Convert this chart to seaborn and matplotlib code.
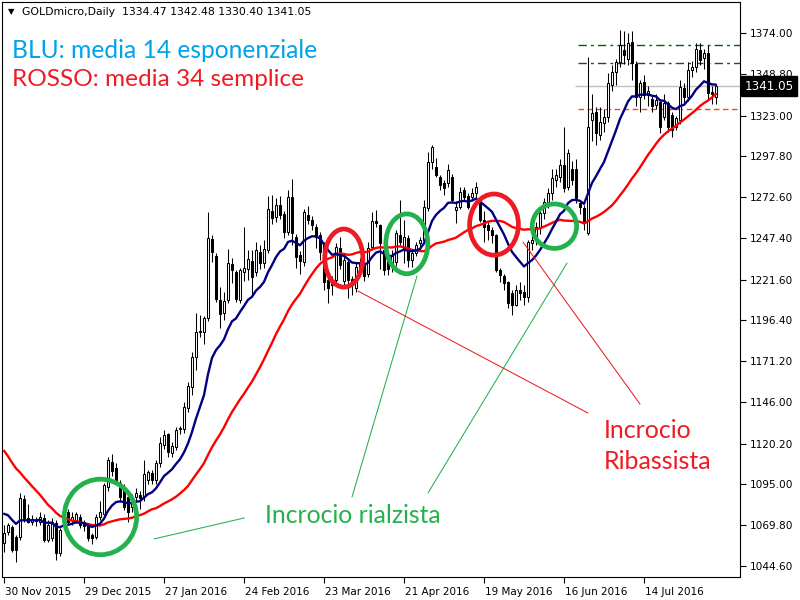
import numpy as np
import pandas as pd
import matplotlib
matplotlib.use("Agg")
import matplotlib.pyplot as plt
import matplotlib.transforms as mtransforms
from matplotlib.patches import Ellipse
import seaborn as sns

# ---------------- data ----------------
symbol = "GOLDmicro,Daily"
date_labels = ["30 Nov 2015", "29 Dec 2015", "27 Jan 2016", "24 Feb 2016", "23 Mar 2016",
               "21 Apr 2016", "19 May 2016", "16 Jun 2016", "14 Jul 2016"]
date_label_bars = [0, 20, 40, 60, 80, 100, 120, 140, 160]
price_ticks = [1374.00, 1348.80, 1323.00, 1297.80, 1272.60, 1247.40, 1221.60,
               1196.40, 1171.20, 1146.00, 1120.20, 1095.00, 1069.80, 1044.60]

# closes of the 34 sessions before the first visible bar (needed for the moving averages)
prior_close = [1166, 1186, 1187, 1177, 1171, 1177, 1166, 1166, 1162, 1166, 1166, 1176,
               1147, 1142, 1135, 1115, 1105, 1104, 1088, 1090, 1088, 1084, 1081, 1081,
               1083, 1069, 1070, 1080, 1076, 1067, 1072, 1070, 1070, 1056]

open_ = [1058.8, 1065.8, 1068.5, 1062.8, 1062.8, 1086.0, 1074.0, 1072.0, 1073.0, 1072.0,
         1074.0, 1060.7, 1061.7, 1071.0, 1052.5, 1070.0, 1078.0, 1073.0, 1073.0, 1075.0,
         1072.0, 1070.0, 1063.8, 1062.8, 1075.0, 1077.0, 1093.7, 1109.0, 1105.0, 1095.7,
         1091.6, 1087.5, 1081.0, 1087.5, 1088.5, 1087.5, 1097.7, 1101.8, 1097.7, 1108.0,
         1119.3, 1126.0, 1114.6, 1118.3, 1129.0, 1129.0, 1142.0, 1155.0, 1173.5, 1189.0,
         1189.4, 1197.6, 1246.5, 1236.0, 1209.0, 1201.0, 1209.0, 1231.0, 1226.0, 1209.0,
         1226.0, 1227.9, 1233.3, 1226.5, 1238.8, 1232.0, 1239.9, 1264.0, 1260.0, 1267.7,
         1262.0, 1251.0, 1272.4, 1248.0, 1236.8, 1232.6, 1261.5, 1258.4, 1254.3, 1249.0,
         1243.0, 1221.3, 1221.3, 1221.3, 1240.9, 1221.0, 1232.6, 1222.0, 1216.2, 1229.0,
         1231.0, 1225.0, 1241.5, 1258.0, 1255.3, 1240.0, 1237.0, 1231.0, 1232.7, 1249.2,
         1239.9, 1247.1, 1233.7, 1237.8, 1244.0, 1246.0, 1265.6, 1294.5, 1291.4, 1285.2,
         1281.1, 1281.1, 1285.2, 1264.6, 1266.7, 1277.0, 1273.0, 1272.8, 1275.0, 1268.7,
         1258.4, 1255.3, 1252.2, 1249.0, 1227.5, 1223.8, 1220.0, 1213.1, 1205.9, 1215.1,
         1214.0, 1211.0, 1244.0, 1246.0, 1253.3, 1262.5, 1269.8, 1274.9, 1283.1, 1285.2,
         1292.4, 1279.0, 1289.7, 1290.0, 1269.0, 1265.6, 1250.2, 1320.3, 1325.4, 1311.0,
         1318.2, 1322.3, 1341.9, 1350.0, 1356.3, 1363.5, 1358.0, 1368.6, 1355.0, 1334.6,
         1344.0, 1335.6, 1333.0, 1329.5, 1331.5, 1322.3, 1330.5, 1323.3, 1316.0, 1320.0,
         1339.8, 1334.6, 1351.0, 1353.0, 1363.5, 1358.4, 1361.4, 1337.7, 1334.47]

high = [1070.0, 1071.0, 1070.0, 1064.0, 1089.5, 1088.5, 1083.0, 1076.0, 1075.0, 1078.0,
        1077.0, 1073.0, 1074.0, 1073.0, 1068.0, 1080.0, 1080.0, 1078.0, 1078.0, 1077.0,
        1073.0, 1071.0, 1065.0, 1077.0, 1085.0, 1096.0, 1112.0, 1114.0, 1108.0, 1098.0,
        1095.0, 1090.0, 1089.0, 1093.0, 1091.0, 1110.0, 1104.0, 1104.0, 1110.0, 1124.5,
        1128.6, 1127.0, 1121.0, 1130.6, 1131.0, 1146.0, 1158.0, 1177.0, 1201.0, 1199.5,
        1199.3, 1263.5, 1249.0, 1238.0, 1217.0, 1214.0, 1240.3, 1234.7, 1227.5, 1229.0,
        1254.0, 1239.9, 1240.0, 1245.0, 1243.0, 1246.0, 1273.0, 1274.0, 1272.0, 1273.0,
        1264.0, 1277.0, 1284.0, 1250.0, 1239.0, 1265.0, 1267.0, 1261.0, 1256.0, 1251.0,
        1245.0, 1224.0, 1224.0, 1244.0, 1248.0, 1236.0, 1235.0, 1224.0, 1232.0, 1235.0,
        1233.0, 1245.0, 1263.6, 1264.6, 1256.0, 1242.0, 1239.0, 1240.0, 1252.2, 1270.8,
        1258.4, 1249.0, 1240.0, 1245.0, 1248.0, 1270.8, 1300.7, 1304.8, 1296.5, 1286.0,
        1283.0, 1293.0, 1287.0, 1270.0, 1279.0, 1279.0, 1275.0, 1278.0, 1282.0, 1271.0,
        1264.0, 1257.0, 1254.0, 1250.0, 1229.0, 1225.0, 1221.0, 1215.0, 1218.0, 1220.0,
        1218.0, 1246.0, 1252.0, 1257.0, 1266.0, 1272.0, 1278.0, 1290.0, 1290.0, 1296.0,
        1316.0, 1302.0, 1295.0, 1296.0, 1271.0, 1268.0, 1359.0, 1336.0, 1328.0, 1328.0,
        1327.0, 1349.0, 1354.0, 1358.0, 1376.0, 1375.0, 1374.0, 1375.0, 1357.0, 1345.0,
        1348.0, 1341.0, 1335.0, 1336.0, 1333.0, 1336.0, 1332.0, 1325.0, 1323.0, 1345.0,
        1343.0, 1356.0, 1357.0, 1368.0, 1368.0, 1364.0, 1366.6, 1341.0, 1342.48]

low = [1053.5, 1063.8, 1053.0, 1047.3, 1060.7, 1072.0, 1071.0, 1070.0, 1069.0, 1070.0,
       1059.6, 1059.6, 1060.0, 1048.3, 1051.0, 1068.0, 1070.0, 1070.0, 1071.0, 1068.0,
       1066.0, 1060.0, 1058.0, 1061.0, 1073.0, 1076.0, 1091.0, 1100.0, 1095.0, 1085.0,
       1079.0, 1072.0, 1078.0, 1084.0, 1080.0, 1085.0, 1095.0, 1095.0, 1095.0, 1106.0,
       1117.0, 1112.0, 1112.0, 1116.0, 1126.0, 1127.0, 1140.0, 1150.0, 1165.7, 1186.0,
       1182.0, 1196.0, 1232.6, 1207.9, 1191.4, 1196.6, 1207.0, 1219.3, 1207.9, 1206.9,
       1221.0, 1221.3, 1212.0, 1224.0, 1228.0, 1229.0, 1238.0, 1256.0, 1257.0, 1259.0,
       1247.0, 1249.0, 1243.0, 1229.0, 1225.0, 1230.0, 1256.0, 1252.0, 1241.0, 1234.0,
       1215.0, 1207.0, 1212.0, 1219.0, 1228.0, 1218.0, 1210.0, 1212.0, 1214.0, 1226.0,
       1221.0, 1223.0, 1239.9, 1254.0, 1228.0, 1224.4, 1224.4, 1226.0, 1230.0, 1243.0,
       1231.6, 1229.6, 1229.6, 1236.0, 1242.0, 1244.0, 1264.0, 1290.0, 1285.0, 1277.0,
       1273.9, 1279.0, 1269.8, 1256.3, 1265.0, 1270.0, 1265.0, 1270.0, 1272.0, 1257.0,
       1245.0, 1246.0, 1244.0, 1226.5, 1220.0, 1215.0, 1204.0, 1199.7, 1205.0, 1209.0,
       1206.0, 1208.0, 1240.0, 1243.0, 1250.0, 1259.0, 1266.0, 1271.0, 1279.0, 1282.0,
       1276.0, 1277.0, 1280.0, 1269.0, 1262.0, 1252.0, 1249.0, 1307.0, 1305.0, 1308.0,
       1313.0, 1319.0, 1338.0, 1342.0, 1353.0, 1355.0, 1354.0, 1345.0, 1329.0, 1325.0,
       1333.0, 1329.0, 1325.0, 1327.0, 1312.0, 1320.0, 1313.0, 1310.0, 1314.0, 1318.0,
       1331.0, 1332.0, 1347.0, 1350.0, 1354.0, 1352.0, 1333.0, 1330.0, 1330.40]

close = [1064.8, 1070.0, 1054.5, 1054.5, 1086.4, 1074.0, 1072.0, 1073.5, 1072.5, 1075.0,
         1060.7, 1070.0, 1072.0, 1052.5, 1067.0, 1077.0, 1072.0, 1075.0, 1077.0, 1070.0,
         1069.0, 1061.7, 1062.0, 1075.0, 1078.0, 1094.7, 1110.0, 1103.0, 1097.8, 1087.5,
         1081.3, 1078.2, 1085.0, 1089.5, 1086.4, 1101.4, 1102.9, 1097.7, 1108.4, 1120.4,
         1125.5, 1115.2, 1118.7, 1128.6, 1129.6, 1142.6, 1155.8, 1173.5, 1189.4, 1190.0,
         1197.6, 1247.0, 1238.8, 1209.4, 1200.3, 1208.5, 1231.6, 1227.5, 1209.4, 1227.5,
         1229.0, 1234.1, 1223.0, 1239.9, 1231.6, 1240.3, 1265.0, 1259.4, 1267.7, 1261.5,
         1251.0, 1272.8, 1250.2, 1235.7, 1233.3, 1263.5, 1258.4, 1255.3, 1248.1, 1238.8,
         1220.3, 1216.2, 1218.2, 1241.9, 1230.6, 1233.7, 1221.3, 1218.2, 1229.5, 1231.0,
         1224.0, 1241.0, 1258.0, 1256.3, 1244.0, 1227.5, 1228.0, 1236.0, 1250.2, 1245.0,
         1248.1, 1233.7, 1237.8, 1243.0, 1246.1, 1266.7, 1294.5, 1303.7, 1286.2, 1280.1,
         1278.0, 1289.3, 1270.8, 1266.7, 1276.0, 1272.8, 1266.7, 1275.0, 1279.0, 1258.4,
         1254.3, 1252.2, 1249.1, 1227.5, 1224.4, 1219.3, 1206.9, 1205.9, 1215.1, 1213.1,
         1211.0, 1245.0, 1246.0, 1254.3, 1262.5, 1269.8, 1274.9, 1284.2, 1286.2, 1292.4,
         1278.0, 1299.6, 1283.1, 1271.8, 1266.2, 1256.3, 1316.1, 1324.3, 1312.0, 1319.2,
         1322.3, 1342.9, 1350.0, 1356.3, 1366.6, 1360.4, 1367.6, 1355.3, 1334.6, 1342.9,
         1335.6, 1338.3, 1328.9, 1332.6, 1316.1, 1330.5, 1316.1, 1314.0, 1321.3, 1340.8,
         1334.6, 1351.1, 1353.2, 1363.9, 1357.3, 1361.4, 1336.7, 1336.3, 1341.05]

green_levels = [1366.6, 1355.3]
orange_levels = [1326.8]

# ---------------- derived ----------------
n = len(close)
bars = np.arange(n)
all_close = pd.Series(prior_close + close, dtype=float)
ema14 = all_close.ewm(span=14, adjust=False).mean().iloc[len(prior_close):].to_numpy()
sma34 = all_close.rolling(34).mean().iloc[len(prior_close):].to_numpy()
df = pd.DataFrame({"bar": bars, "open": open_, "high": high, "low": low, "close": close,
                   "ema": ema14, "sma": sma34})

# ---------------- figure ----------------
sns.set_style("white")
plt.rcParams["font.family"] = ["DejaVu Sans"]
fig = plt.figure(figsize=(8, 6), dpi=100)
ax = fig.add_axes([2 / 800, 1 - 577 / 600, 738 / 800, 575 / 600])
ax.set_xlim(-0.5, 184)
ax.set_ylim(1037.78, 1393.16)

# horizontal level lines
last_close = close[-1]
ax.hlines(last_close, 142.75, 184, color="#C0C0C0", lw=1.0, zorder=1)
for lv in green_levels:
    ax.hlines(lv, 143.5, 184, color="#006400", lw=1.0, linestyles=(0, (6, 3, 2, 3)), zorder=1)
for lv in orange_levels:
    ax.hlines(lv, 143.5, 184, color="#F04A1E", lw=1.0, linestyles=(0, (4, 2.5)), zorder=1)

# candles
up = df["close"] >= df["open"]
ax.vlines(df["bar"], df["low"], df["high"], color="black", lw=0.75, zorder=2)
body_bottom = np.minimum(df["open"], df["close"])
body_h = np.maximum(np.abs(df["close"] - df["open"]), 0.35)
ax.bar(df["bar"][up], body_h[up], bottom=body_bottom[up], width=0.64,
       color="white", edgecolor="black", linewidth=0.75, zorder=3)
ax.bar(df["bar"][~up], body_h[~up], bottom=body_bottom[~up], width=0.64,
       color="black", edgecolor="black", linewidth=0.75, zorder=3)

# moving averages
sns.lineplot(data=df, x="bar", y="sma", color="#FF0000", lw=1.7, ax=ax, zorder=4)
sns.lineplot(data=df, x="bar", y="ema", color="#000080", lw=1.7, ax=ax, zorder=5)

# annotations (hand drawn circles, lines and notes)
GREEN = "#22B14C"
RED = "#ED1C24"
NOTE_FONT = ["Lato", "DejaVu Sans"]
for (cx, cy, w, h, col) in [(24.1, 1074.9, 18.1, 46.7, GREEN),
                            (84.95, 1234.9, 9.5, 35.9, RED),
                            (100.7, 1243.7, 10.5, 37.0, GREEN),
                            (122.5, 1255.6, 12.2, 37.8, RED),
                            (137.6, 1254.6, 11.1, 27.5, GREEN)]:
    ax.add_patch(Ellipse((cx, cy), w, h, fill=False, edgecolor=col, lw=3.4, zorder=6))
for (x0, y0, x1, y1, col) in [(37.5, 1061.3, 60.1, 1074.3, GREEN),
                              (87.0, 1087.2, 103.25, 1223.8, GREEN),
                              (106.0, 1089.7, 140.75, 1231.8, GREEN),
                              (88.5, 1214.5, 146.0, 1139.1, RED),
                              (129.75, 1244.8, 159.0, 1144.7, RED)]:
    ax.plot([x0, x1], [y0, y1], color=col, lw=0.75, zorder=6)
ax.text(65.25, 1075.5, "Incrocio rialzista", color=GREEN, fontsize=17.8,
        family=NOTE_FONT, ha="left", va="center", zorder=7)
ax.text(150, 1128.6, "Incrocio", color=RED, fontsize=18,
        family=NOTE_FONT, ha="left", va="center", zorder=7)
ax.text(150, 1108.9, "Ribassista", color=RED, fontsize=18,
        family=NOTE_FONT, ha="left", va="center", zorder=7)

# axes styling
for sp in ax.spines.values():
    sp.set_color("black")
    sp.set_linewidth(0.8)
ax.set_xlabel("")
ax.set_ylabel("")
ax.yaxis.tick_right()
ax.set_yticks(price_ticks)
ax.set_yticklabels([f"{p:.2f}" for p in price_ticks])
ax.set_xticks(date_label_bars)
ax.set_xticklabels(date_labels, ha="left")
ax.tick_params(axis="y", direction="out", length=4, width=0.8, pad=3, labelsize=7.6,
               right=True, left=False, colors="black")
ax.tick_params(axis="x", direction="out", length=4.5, width=0.8, pad=3, labelsize=7.5,
               bottom=True, colors="black")
offset = mtransforms.ScaledTranslation(1.0 / 100, 0, fig.dpi_scale_trans)
for lab in ax.get_xticklabels():
    lab.set_transform(lab.get_transform() + offset)

# current price box
trans = mtransforms.blended_transform_factory(ax.transAxes, ax.transData)
ax.text(1.006, last_close, f"{last_close:.2f}", transform=trans, color="white",
        fontsize=8.6, ha="left", va="center", zorder=10, clip_on=False,
        bbox=dict(boxstyle="square,pad=0.28", fc="black", ec="black"))

# header and legend texts
fig.text(8 / 800, 1 - 12 / 600, "\u25BC", fontsize=6, color="black", va="center", ha="left")
fig.text(22 / 800, 1 - 12 / 600,
         f"{symbol}  {open_[-1]:.2f} {high[-1]:.2f} {low[-1]:.2f} {close[-1]:.2f}",
         fontsize=7.8, color="black", va="center", ha="left")
fig.text(12 / 800, 1 - 50 / 600, "BLU: media 14 esponenziale", color="#00A2E8",
         fontsize=17.7, family=NOTE_FONT, va="center", ha="left")
fig.text(12 / 800, 1 - 80 / 600, "ROSSO: media 34 semplice", color=RED,
         fontsize=17.6, family=NOTE_FONT, va="center", ha="left")

fig.savefig("out.png", dpi=100, facecolor="white")
